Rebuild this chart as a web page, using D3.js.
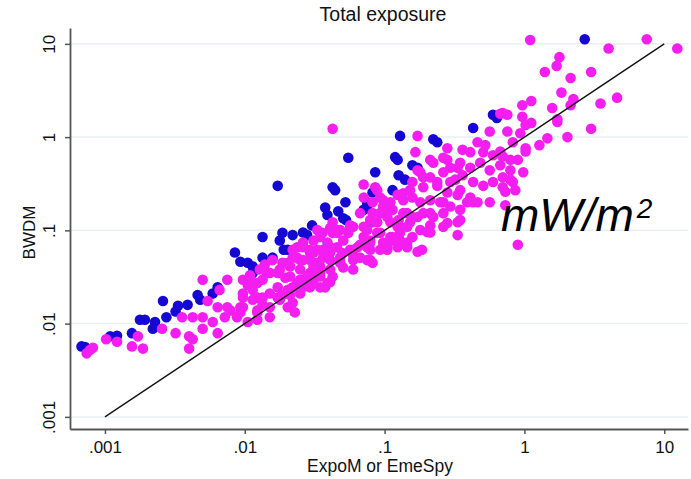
<!DOCTYPE html>
<html>
<head>
<meta charset="utf-8">
<script src="https://cdn.jsdelivr.net/npm/d3@7"></script>
<style>
  body { margin: 0; background: #fff; }
  svg text { font-family: 'Liberation Sans', Arial, sans-serif; }
</style>
</head>
<body>
<div id="chart"></div>
<script>
// tick values and labels (log axes)
var tickValues = [0.001, 0.01, 0.1, 1, 10]
var tickLabels = ['.001', '.01', '.1', '1', '10']

// reference line y = x
var refLine = [[0.001, 0.001], [10, 10]]

// BWDM vs ExpoM (blue)
var blueData = [
  [0.00068, 0.0057], [0.00072, 0.0056], [0.00109, 0.0073], [0.00122, 0.0074], [0.00156, 0.0079],
  [0.00178, 0.011], [0.00193, 0.011], [0.00228, 0.0104], [0.0022, 0.0088], [0.0026, 0.0175],
  [0.00275, 0.0117], [0.0032, 0.0135], [0.00333, 0.0155], [0.0039, 0.0159], [0.0046, 0.0203],
  [0.0048, 0.018], [0.0059, 0.021], [0.0064, 0.0245], [0.0085, 0.058], [0.0093, 0.046],
  [0.0105, 0.045], [0.0114, 0.035], [0.0114, 0.041], [0.0134, 0.051], [0.0158, 0.051],
  [0.0134, 0.085], [0.0178, 0.078], [0.0186, 0.094], [0.022, 0.089], [0.0203, 0.062],
  [0.019, 0.062], [0.0172, 0.30], [0.0261, 0.095], [0.0279, 0.089], [0.0303, 0.113],
  [0.0376, 0.176], [0.039, 0.146], [0.0466, 0.16], [0.0425, 0.29], [0.0443, 0.27],
  [0.0525, 0.20], [0.053, 0.129], [0.0506, 0.135], [0.055, 0.60], [0.0708, 0.166],
  [0.075, 0.20], [0.075, 0.18], [0.0857, 0.42], [0.082, 0.255], [0.114, 0.27],
  [0.126, 0.39], [0.14, 0.35], [0.129, 1.03], [0.119, 0.61], [0.124, 0.57],
  [0.158, 0.50], [0.172, 0.47], [0.223, 0.95], [0.238, 0.88], [0.43, 1.25],
  [0.596, 1.74], [0.635, 1.6], [2.7, 11.2]
]

// BWDM vs EmeSpy (magenta)
var pinkData = [
  [0.00074, 0.0048], [0.00078, 0.0052], [0.00082, 0.0055], [0.00102, 0.0068], [0.00122, 0.0064],
  [0.00156, 0.0057], [0.00172, 0.0073], [0.00187, 0.0054], [0.00256, 0.0088], [0.0032, 0.0079],
  [0.00356, 0.0117], [0.004, 0.0073], [0.00424, 0.0068], [0.004, 0.0054], [0.00424, 0.0117],
  [0.005, 0.0295], [0.005, 0.0117], [0.005, 0.0088], [0.00542, 0.0175], [0.0059, 0.0104],
  [0.0064, 0.015], [0.0064, 0.0079], [0.0066, 0.023], [0.0072, 0.0117], [0.0075, 0.0295],
  [0.0075, 0.015], [0.0088, 0.0117], [0.0093, 0.015], [0.0097, 0.0295], [0.0097, 0.021],
  [0.0079, 0.0138], [0.0105, 0.0104], [0.0105, 0.026], [0.0114, 0.023], [0.0123, 0.0273],
  [0.0144, 0.035], [0.0172, 0.035], [0.0211, 0.041], [0.0249, 0.048], [0.0293, 0.058],
  [0.0123, 0.019], [0.0134, 0.0159], [0.0123, 0.0132], [0.0172, 0.019], [0.0203, 0.015],
  [0.0228, 0.0132], [0.0186, 0.0203], [0.022, 0.0245], [0.0293, 0.035], [0.0346, 0.041],
  [0.0376, 0.0245], [0.0408, 0.028],
  [0.0708, 0.31], [0.071, 0.225], [0.0857, 0.29], [0.0977, 0.21], [0.0668, 0.153],
  [0.0425, 0.122], [0.033, 0.101], [0.0346, 0.085], [0.0425, 0.094], [0.055, 0.094],
  [0.0596, 0.109], [0.075, 0.101], [0.0885, 0.122], [0.1045, 0.139], [0.114, 0.166],
  [0.124, 0.109], [0.0261, 0.074], [0.0237, 0.066], [0.0293, 0.062], [0.0363, 0.062],
  [0.0457, 0.066], [0.0567, 0.062], [0.0668, 0.070], [0.0789, 0.074], [0.0977, 0.074],
  [0.114, 0.078], [0.0158, 0.048], [0.0186, 0.045], [0.022, 0.051], [0.0261, 0.048],
  [0.033, 0.045], [0.0408, 0.048], [0.0481, 0.045], [0.0596, 0.038], [0.0789, 0.048],
  [0.0668, 0.051], [0.0128, 0.038], [0.0151, 0.035], [0.0178, 0.038], [0.0211, 0.032],
  [0.0249, 0.0295], [0.0293, 0.032], [0.0346, 0.035], [0.0408, 0.038], [0.0114, 0.0273],
  [0.0134, 0.0295], [0.0172, 0.0245], [0.0203, 0.023], [0.0249, 0.021], [0.022, 0.0167],
  [0.0178, 0.018], [0.0151, 0.021], [0.039, 0.0273], [0.0279, 0.0273], [0.0097, 0.019],
  [0.0114, 0.018], [0.0134, 0.019], [0.0097, 0.015], [0.0123, 0.0138], [0.0151, 0.015],
  [0.0211, 0.0203], [0.0093, 0.0132], [0.0123, 0.011], [0.0151, 0.0117], [0.11, 0.085],
  [0.124, 0.066], [0.082, 0.045],
  [0.0425, 1.23], [0.172, 1.03], [0.281, 0.76], [0.166, 0.69], [0.462, 0.88],
  [0.565, 1.15], [0.70, 1.81], [0.755, 1.74], [0.966, 2.2], [0.966, 1.65],
  [1.02, 1.35], [0.755, 1.15], [0.934, 1.1], [0.826, 0.88], [1.02, 0.76],
  [0.361, 0.73], [0.41, 0.69], [0.525, 0.82], [0.596, 0.64], [0.70, 0.62],
  [0.897, 0.57], [0.212, 0.57], [0.263, 0.60], [0.295, 0.47], [0.347, 0.53],
  [0.41, 0.47], [0.483, 0.53], [0.565, 0.44], [0.672, 0.50], [0.794, 0.44],
  [0.98, 0.42], [0.826, 0.33], [0.70, 0.37], [0.596, 0.33], [0.18, 0.42],
  [0.212, 0.37], [0.263, 0.42], [0.32, 0.35], [0.361, 0.39], [0.43, 0.33],
  [0.508, 0.30], [0.158, 0.33], [0.189, 0.29], [0.238, 0.30], [0.281, 0.255],
  [0.347, 0.27], [0.41, 0.225], [0.462, 0.20], [0.565, 0.20], [0.73, 0.186],
  [0.861, 0.27], [0.73, 0.26], [0.0885, 0.27], [0.093, 0.225], [0.124, 0.24],
  [0.136, 0.21], [0.158, 0.225], [0.18, 0.20], [0.212, 0.21], [0.25, 0.20],
  [0.295, 0.18], [0.347, 0.166], [0.389, 0.20], [0.082, 0.153], [0.0977, 0.18],
  [0.136, 0.153], [0.158, 0.139], [0.189, 0.153], [0.223, 0.139], [0.263, 0.153],
  [0.0567, 0.113], [0.0708, 0.109], [0.11, 0.122], [0.129, 0.109], [0.152, 0.122],
  [0.18, 0.101], [0.212, 0.113], [0.281, 0.12], [0.333, 0.122], [0.333, 0.089],
  [0.0457, 0.094], [0.0708, 0.085], [0.0885, 0.094], [0.129, 0.094], [0.158, 0.085],
  [0.202, 0.096], [0.0596, 0.062], [0.075, 0.066], [0.093, 0.062], [0.145, 0.066],
  [0.172, 0.059], [0.897, 0.070], [0.0408, 0.058],
  [0.508, 0.69], [0.672, 0.70], [0.794, 0.57], [0.794, 0.35], [0.70, 0.29],
  [0.43, 0.20], [0.333, 0.24], [0.347, 0.129], [0.263, 0.109],
  [0.082, 0.20], [0.136, 0.25], [0.093, 0.153], [0.145, 0.153], [0.082, 0.122],
  [0.126, 0.129], [0.0408, 0.106], [0.0481, 0.101], [0.1045, 0.062], [0.145, 0.074],
  [0.031, 0.078], [0.039, 0.074], [0.022, 0.062], [0.031, 0.058], [0.0363, 0.051],
  [0.05, 0.057], [0.0596, 0.054], [0.0203, 0.045], [0.031, 0.041], [0.031, 0.029],
  [0.026, 0.0245], [0.0346, 0.0245],
  [0.0789, 0.129], [0.0977, 0.166], [0.11, 0.20], [0.152, 0.27], [0.189, 0.37],
  [0.172, 0.44], [0.223, 0.53], [0.281, 0.57], [0.333, 0.47], [0.238, 0.33],
  [0.295, 0.33], [0.263, 0.20], [0.212, 0.153], [0.172, 0.139], [0.145, 0.109],
  [0.212, 0.095], [0.185, 0.062], [0.114, 0.085], [0.093, 0.094], [0.0789, 0.078],
  [0.075, 0.109], [0.0567, 0.109], [0.0457, 0.101], [0.036, 0.094], [0.0506, 0.078],
  [0.064, 0.066], [0.0789, 0.062], [0.1045, 0.066], [0.129, 0.078], [0.0408, 0.066],
  [0.033, 0.062], [0.0261, 0.066], [0.0237, 0.051], [0.0293, 0.048], [0.0481, 0.051],
  [0.0596, 0.048], [0.075, 0.048], [0.0249, 0.038], [0.0506, 0.040], [0.0279, 0.032],
  [0.0237, 0.0273], [0.0346, 0.032], [0.0425, 0.032], [0.0293, 0.0245],
  [0.0109, 0.033], [0.0139, 0.043], [0.0195, 0.031],
  [1.10, 11.0], [7.5, 11.2], [4.0, 8.9], [12.4, 8.9], [1.78, 7.2],
  [1.7, 5.8], [1.4, 5.0], [3.0, 5.0], [2.14, 4.3], [1.84, 3.0],
  [2.24, 2.56], [2.14, 2.2], [1.58, 2.05], [1.12, 2.44], [3.5, 2.29],
  [4.6, 2.65], [0.672, 1.78], [1.72, 1.55], [1.72, 1.45], [1.12, 1.42],
  [3.0, 1.23], [1.46, 0.97], [1.28, 0.82], [2.03, 1.0], [1.02, 0.7]
]

// Set up margin/height/width
var margin = { top: 28, left: 70, right: 3, bottom: 50 }
var width = 691 - margin.left - margin.right
var height = 479 - margin.top - margin.bottom

var svg = d3.select('#chart')
  .append('svg')
  .attr('width', 691)
  .attr('height', 479)

var g = svg.append('g')
  .attr('transform', 'translate(' + margin.left + ',' + margin.top + ')')

var xPositionScale = d3.scaleLog()
  .domain([Math.pow(10, -3.25), Math.pow(10, 1.17)])
  .range([0, width])

var yPositionScale = d3.scaleLog()
  .domain([Math.pow(10, -3.13), Math.pow(10, 1.17)])
  .range([height, 0])

// grid lines
g.selectAll('.grid')
  .data(tickValues)
  .enter()
  .append('line')
  .attr('class', 'grid')
  .attr('x1', 0)
  .attr('x2', width)
  .attr('y1', d => yPositionScale(d))
  .attr('y2', d => yPositionScale(d))
  .attr('stroke', '#e9f0f2')
  .attr('stroke-width', 1.5)

// points - blue first, magenta on top
g.selectAll('.blue')
  .data(blueData)
  .enter()
  .append('circle')
  .attr('class', 'blue')
  .attr('cx', d => xPositionScale(d[0]))
  .attr('cy', d => yPositionScale(d[1]))
  .attr('r', 5.3)
  .attr('fill', '#1408d2')

g.selectAll('.pink')
  .data(pinkData)
  .enter()
  .append('circle')
  .attr('class', 'pink')
  .attr('cx', d => xPositionScale(d[0]))
  .attr('cy', d => yPositionScale(d[1]))
  .attr('r', 5.3)
  .attr('fill', '#f51ef0')

// y = x line
var line = d3.line()
  .x(d => xPositionScale(d[0]))
  .y(d => yPositionScale(d[1]))

g.append('path')
  .datum(refLine)
  .attr('d', line)
  .attr('fill', 'none')
  .attr('stroke', '#111')
  .attr('stroke-width', 1.4)

// Axes
var fmt = d => tickLabels[tickValues.indexOf(d)]

var xAxis = d3.axisBottom(xPositionScale).tickValues(tickValues).tickFormat(fmt).tickSize(5).tickSizeOuter(0)
var xg = g.append('g')
  .attr('class', 'axis x-axis')
  .attr('transform', 'translate(0,' + height + ')')
  .call(xAxis)
xg.selectAll('text')
  .attr('font-size', 17)
  .attr('fill', '#111')
  .attr('y', 24)
  .attr('dy', null)

var yAxis = d3.axisLeft(yPositionScale).tickValues(tickValues).tickFormat(fmt).tickSize(5).tickSizeOuter(0)
var yg = g.append('g')
  .attr('class', 'axis y-axis')
  .call(yAxis)
yg.selectAll('text')
  .attr('font-size', 17)
  .attr('fill', '#111')
  .attr('x', null)
  .attr('dy', null)
  .attr('text-anchor', 'middle')
  .attr('transform', 'translate(-15,0) rotate(-90)')

g.selectAll('.axis path, .axis line').attr('stroke', '#555').attr('stroke-width', 1.5)
g.selectAll('.domain').attr('stroke', '#555').attr('stroke-width', 1.8)

// Titles
svg.append('text')
  .attr('x', margin.left + width / 2 + 4)
  .attr('y', 21)
  .attr('text-anchor', 'middle')
  .attr('font-size', 19.5)
  .attr('fill', '#111')
  .text('Total exposure')

svg.append('text')
  .attr('x', margin.left + width / 2 + 1)
  .attr('y', 472)
  .attr('text-anchor', 'middle')
  .attr('font-size', 17.5)
  .attr('fill', '#111')
  .text('ExpoM or EmeSpy')

svg.append('text')
  .attr('transform', 'translate(35,' + (margin.top + height / 2 + 4) + ') rotate(-90)')
  .attr('text-anchor', 'middle')
  .attr('font-size', 17)
  .attr('fill', '#111')
  .text('BWDM')

// unit annotation
var unit = svg.append('text')
  .attr('x', 501)
  .attr('y', 231)
  .attr('font-family', "'Open Sans', sans-serif")
  .attr('font-style', 'italic')
  .attr('font-size', 46)
  .attr('fill', '#000')
unit.append('tspan').text('mW/m')
unit.append('tspan')
  .attr('font-size', 28)
  .attr('dx', 3)
  .attr('dy', -13)
  .text('2')
</script>
</body>
</html>
